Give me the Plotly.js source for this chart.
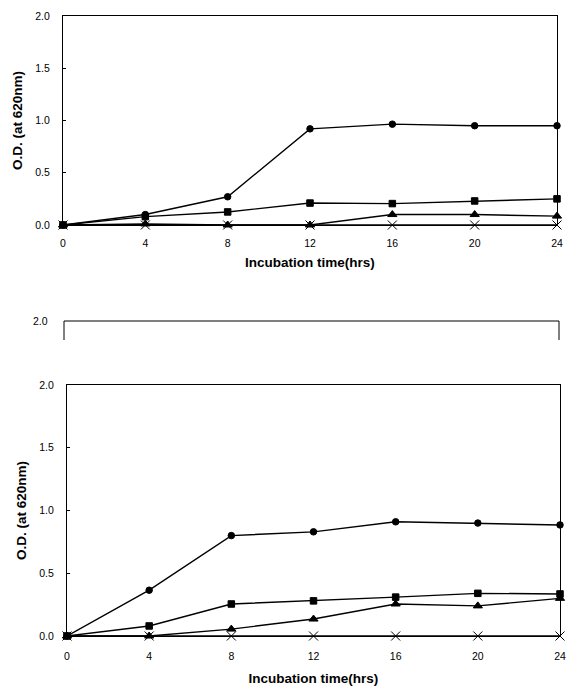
<!DOCTYPE html>
<html>
<head>
<meta charset="utf-8">
<script src="https://cdn.plot.ly/plotly-3.0.1.min.js"></script>
<style>html,body{margin:0;padding:0;background:#fff;}#chart{width:569px;height:686px;}</style>
</head>
<body>
<div id="chart"></div>
<script>
// Incubation times (hrs)
const hours = [0, 4, 8, 12, 16, 20, 24];
const xTickLabels = ["0", "4", "8", "12", "16", "20", "24"];
const yTickVals = [0, 0.5, 1.0, 1.5, 2.0];
const yTickLabels = ["0.0", "0.5", "1.0", "1.5", "2.0"];

// Top panel O.D. values
const topCircle   = [0, 0.10, 0.27, 0.92, 0.965, 0.95, 0.95];
const topSquare   = [0, 0.08, 0.125, 0.21, 0.205, 0.23, 0.25];
const topTriangle = [0, 0.01, 0.0, 0.0, 0.10, 0.10, 0.085];
const topCross    = [0, 0, 0, 0, 0, 0, 0];

// Bottom panel O.D. values
const botCircle   = [0, 0.365, 0.80, 0.83, 0.91, 0.90, 0.885];
const botSquare   = [0, 0.08, 0.255, 0.28, 0.31, 0.34, 0.335];
const botTriangle = [0, 0.0, 0.055, 0.135, 0.255, 0.24, 0.30];
const botCross    = [0, 0, 0, 0, 0, 0, 0];

const W = 569, H = 686;
const px = v => v / W;
const py = v => 1 - v / H;

function series(y, symbol, size, xa, ya) {
  return {
    x: hours, y: y, xaxis: xa, yaxis: ya, type: 'scatter', mode: 'lines+markers',
    line: {color: '#000', width: 1.4},
    marker: {symbol: symbol, size: size, color: '#000', line: {color: '#000', width: 1}},
    cliponaxis: false, showlegend: false, hoverinfo: 'skip'
  };
}

const data = [
  series(topCross, 'x-thin', 9, 'x', 'y'),
  series(topTriangle, 'triangle-up', 8, 'x', 'y'),
  series(topSquare, 'square', 6.5, 'x', 'y'),
  series(topCircle, 'circle', 6.5, 'x', 'y'),
  series(botCross, 'x-thin', 9, 'x2', 'y2'),
  series(botTriangle, 'triangle-up', 8, 'x2', 'y2'),
  series(botSquare, 'square', 6.5, 'x2', 'y2'),
  series(botCircle, 'circle', 6.5, 'x2', 'y2')
];

const tickFont = {family: 'Liberation Sans, Arial, sans-serif', size: 10.5, color: '#000'};
const titleFont = {family: 'Liberation Sans, Arial, sans-serif', size: 13.5, color: '#000', weight: 'bold'};

function xAxis(domain, anchor, tstand, tlstand) {
  return {
    domain: domain, anchor: anchor, range: [0, 24], tickvals: hours, ticktext: xTickLabels,
    showline: true, mirror: true, linecolor: '#000', linewidth: 1, showgrid: false, zeroline: false,
    ticks: '', tickfont: tickFont, ticklabelstandoff: tlstand, fixedrange: true,
    title: {text: 'Incubation time(hrs)', font: titleFont, standoff: tstand}
  };
}
function yAxis(domain, anchor) {
  return {
    domain: domain, anchor: anchor, range: [0, 2], tickvals: yTickVals, ticktext: yTickLabels,
    showline: true, mirror: true, linecolor: '#000', linewidth: 1, showgrid: false, zeroline: false,
    ticks: 'inside', ticklen: 3, tickcolor: '#000', tickfont: tickFont, ticklabelstandoff: 10, fixedrange: true,
    title: {text: 'O.D. (at 620nm)', font: titleFont, standoff: 9}
  };
}

const layout = {
  width: W, height: H,
  margin: {l: 0, r: 0, t: 0, b: 0},
  paper_bgcolor: '#fff', plot_bgcolor: '#fff',
  xaxis: xAxis([px(63), px(557)], 'y', 9, 8),
  yaxis: yAxis([py(225), py(16)], 'x'),
  xaxis2: xAxis([px(67), px(560)], 'y2', 15, 10),
  yaxis2: yAxis([py(636), py(385)], 'x2'),
  shapes: [{
    type: 'path', xref: 'paper', yref: 'paper',
    path: 'M ' + px(64) + ' ' + py(340) + ' L ' + px(64) + ' ' + py(321) + ' L ' + px(559) + ' ' + py(321) + ' L ' + px(559) + ' ' + py(340),
    line: {color: '#000', width: 1}
  }],
  annotations: [{
    xref: 'paper', yref: 'paper', x: px(50), y: py(321), xanchor: 'right', yanchor: 'middle',
    text: '2.0', showarrow: false, font: tickFont
  }]
};

Plotly.newPlot('chart', data, layout, {displayModeBar: false, staticPlot: true});
</script>
</body>
</html>
